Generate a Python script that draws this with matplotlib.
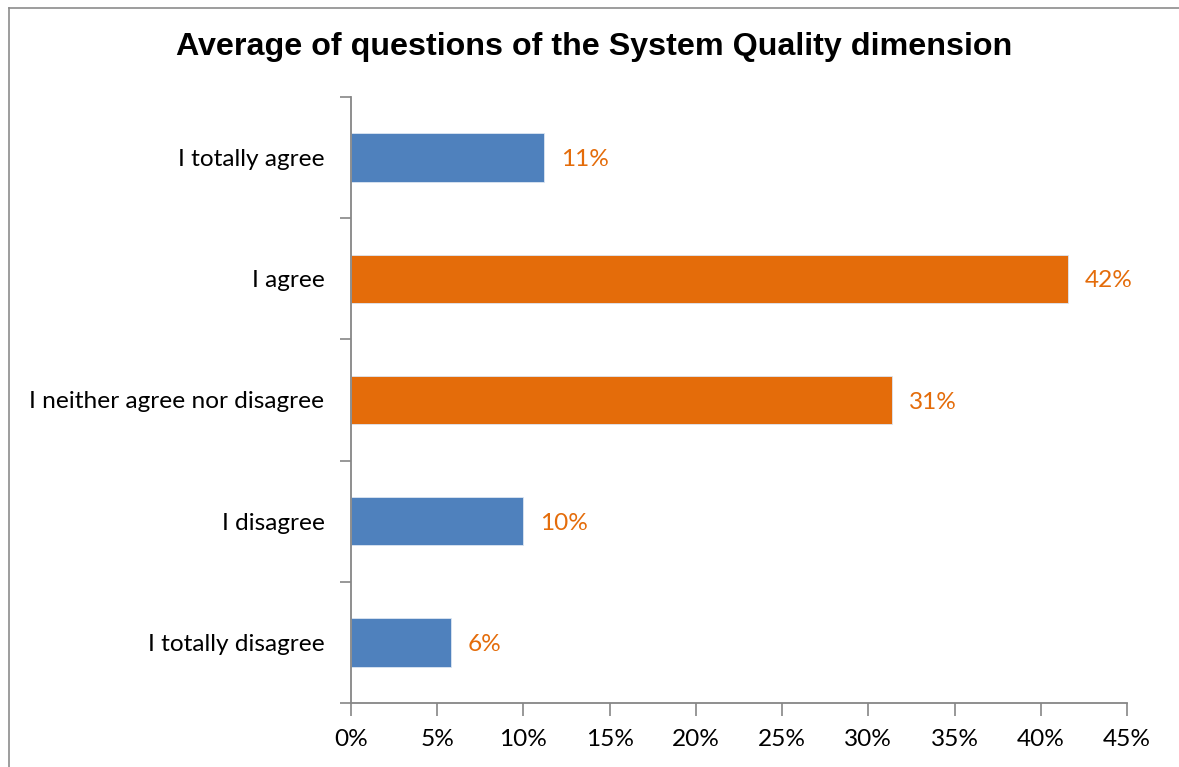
import matplotlib
matplotlib.use("Agg")
import matplotlib.pyplot as plt
from matplotlib.lines import Line2D
from matplotlib.ticker import MultipleLocator, FuncFormatter

categories = ["I totally agree", "I agree", "I neither agree nor disagree",
              "I disagree", "I totally disagree"]
values = [11.2, 41.6, 31.4, 10.0, 5.8]
bar_colors = ["#4F81BD", "#E46C0A", "#E46C0A", "#4F81BD", "#4F81BD"]
title = "Average of questions of the System Quality dimension"

axis_grey = "#868686"
label_orange = "#E46C0A"

fig = plt.figure(figsize=(11.79, 7.67), dpi=100)
ax = fig.add_axes([351 / 1179, 1 - 703 / 767, (1127 - 351) / 1179, (703 - 97) / 767])

ypos = list(range(len(categories)))
ax.barh(ypos, values, height=0.4, color=bar_colors, edgecolor="#dce6f2",
        linewidth=0.6, zorder=2)

ax.set_ylim(len(categories) - 0.5, -0.5)
ax.set_xlim(0, 45)
ax.xaxis.set_major_locator(MultipleLocator(5))
ax.xaxis.set_major_formatter(FuncFormatter(lambda v, _: f"{v:.0f}%"))

# category ticks sit on boundaries between bars; labels at bar centres
ax.set_yticks([i - 0.5 for i in range(len(categories) + 1)])
ax.set_yticklabels([])
ax.set_yticks(ypos, minor=True)
ax.set_yticklabels(categories, minor=True)
ax.tick_params(axis="y", which="minor", length=0, pad=19)
ax.tick_params(axis="y", which="major", length=8, width=1.2, color=axis_grey)
ax.tick_params(axis="x", length=9, width=1.2, color=axis_grey, pad=10)

for lbl in ax.get_yticklabels(minor=True) + ax.get_xticklabels():
    lbl.set_fontfamily("Lato")
    lbl.set_fontsize(17.6)
    lbl.set_color("black")

for side in ["top", "right"]:
    ax.spines[side].set_visible(False)
for side in ["left", "bottom"]:
    ax.spines[side].set_color(axis_grey)
    ax.spines[side].set_linewidth(1.3)

for y, v in zip(ypos, values):
    ax.annotate(f"{v:.0f}%", xy=(v, y), xytext=(12, -1.5), textcoords="offset points",
                va="center", ha="left", color=label_orange,
                fontfamily="Lato", fontsize=17.6)

fig.text(0.5 * (180 + 1008) / 1179, 1 - 47 / 767, title, ha="center", va="center",
         fontfamily="Liberation Sans", fontweight="bold", fontsize=23.2)

# outer chart frame (left and top edges)
fx = 8.5 / 1179
fy = 1 - 7.5 / 767
fig.add_artist(Line2D([fx, fx], [0, fy], transform=fig.transFigure,
                      color="#8c8c8c", linewidth=1.2))
fig.add_artist(Line2D([fx, 1], [fy, fy], transform=fig.transFigure,
                      color="#8c8c8c", linewidth=1.2))

fig.savefig("out.png", dpi=100, facecolor="white")
